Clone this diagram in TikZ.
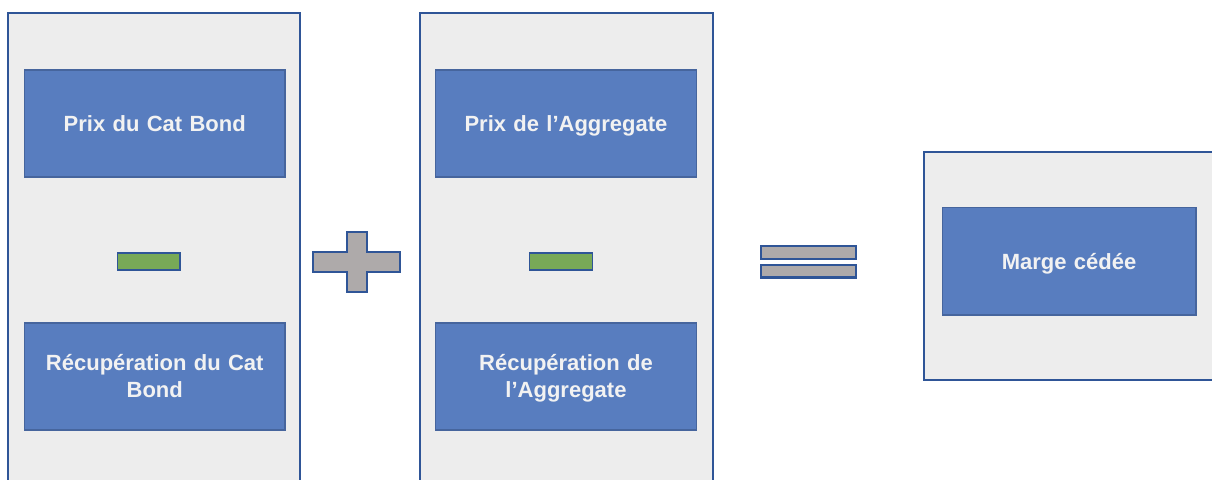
\documentclass[tikz,border=0pt]{standalone}
\usepackage{fontspec}
\setmainfont{Liberation Sans}
\definecolor{panelfill}{HTML}{EDEDED}
\definecolor{panelline}{HTML}{2F5597}
\definecolor{boxfill}{HTML}{587DBF}
\definecolor{boxline}{HTML}{46659D}
\definecolor{boxtext}{HTML}{F2F2F2}
\definecolor{minusfill}{HTML}{78A957}
\definecolor{opfill}{HTML}{AEAAAA}
\begin{document}
\begin{tikzpicture}[x=1pt,y=-1pt,
  panel/.style={fill=panelfill,draw=panelline,line width=2pt},
  termbox/.style={fill=boxfill,draw=boxline,line width=1.8pt},
  termtext/.style={text=boxtext,font=\fontsize{22}{27}\selectfont\bfseries,align=center,text width=240pt,inner sep=0pt},
  opshape/.style={fill=opfill,draw=panelline,line width=2.4pt},
  minusbar/.style={fill=minusfill,draw=panelline,line width=1.4pt}]
\useasboundingbox (0,0) rectangle (1212,479);
\clip (0,0) rectangle (1212,479);
\fill[white] (0,0) rectangle (1212,479);

% left group: Cat Bond
\draw[panel] (7.5,12.5) rectangle (300,495);
\draw[termbox] (24.5,70) rectangle (285,177);
\node[termtext] (t1) at (154.75,126.5) {\strut Prix du Cat Bond\strut};
\draw[minusbar] (117.5,253) rectangle (180,270);
\draw[termbox] (24.5,323) rectangle (285,430);
\node[termtext] (t2) at (154.75,379) {\strut Récupération du Cat\strut\\\strut Bond\strut};

% plus sign
\draw[opshape] (313,252) -- (347,252) -- (347,232) -- (367,232) -- (367,252)
  -- (400,252) -- (400,272) -- (367,272) -- (367,292) -- (347,292)
  -- (347,272) -- (313,272) -- cycle;

% middle group: Aggregate
\draw[panel] (419.5,12.5) rectangle (712.5,495);
\draw[termbox] (435.5,70) rectangle (696.5,177);
\node[termtext] (t3) at (566,126.5) {\strut Prix de l’Aggregate\strut};
\draw[minusbar] (529.5,253) rectangle (592.5,270);
\draw[termbox] (435.5,323) rectangle (696.5,430);
\node[termtext] (t4) at (566,379) {\strut Récupération de\strut\\\strut l’Aggregate\strut};

% equals sign
\draw[opshape] (761,246) rectangle (856,259);
\draw[opshape] (761,265) rectangle (856,277.5);

% result
\draw[panel] (923.5,151.5) rectangle (1230,380);
\draw[termbox] (942.5,207.5) rectangle (1196,315);
\node[termtext] (t5) at (1069,264) {\strut Marge cédée\strut};
\end{tikzpicture}
\end{document}
